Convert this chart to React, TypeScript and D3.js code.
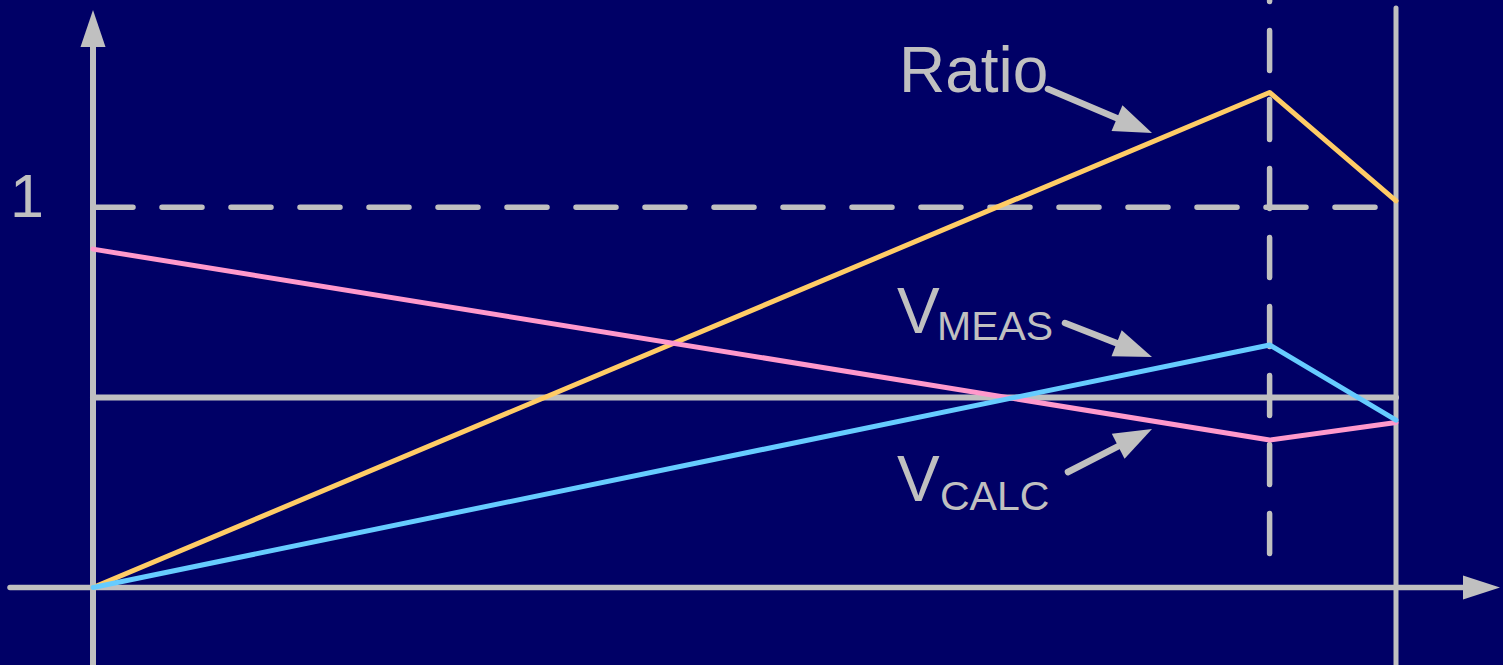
import React from "react";
import * as d3 from "d3";

// ---- data ----
const xKeys = [0, 0.903, 1];
const ratioValues = [0, 1.302, 1.017];
const vmeasValues = [0, 0.638, 0.44];
const vcalcValues = [0.89, 0.388, 0.434];
const referenceLevel = 1;
const midLevel = 0.5;
const breakX = 0.903;
const yTickLabels = ["1"];

const W = 1503;
const H = 665;
const BG = "#000066";
const GREY = "#C0C0C0";
const FONT = "'Liberation Sans', Arial, sans-serif";

function arrowHead(x1: number, y1: number, x2: number, y2: number, len: number, half: number) {
  const dx = x2 - x1, dy = y2 - y1;
  const d = Math.hypot(dx, dy);
  const ux = dx / d, uy = dy / d;
  const bx = x2 - ux * len, by = y2 - uy * len;
  const px = -uy, py = ux;
  return {
    pts: `${x2},${y2} ${bx + px * half},${by + py * half} ${bx - px * half},${by - py * half}`,
    bx: x2 - ux * (len - 2),
    by: y2 - uy * (len - 2),
  };
}

function Arrow({ x1, y1, x2, y2 }: { x1: number; y1: number; x2: number; y2: number }) {
  const h = arrowHead(x1, y1, x2, y2, 38, 14);
  return (
    <g>
      <line x1={x1} y1={y1} x2={h.bx} y2={h.by} stroke={GREY} strokeWidth={6.5} strokeLinecap="round" />
      <polygon points={h.pts} fill={GREY} />
    </g>
  );
}

export default function App() {
  const x = d3.scaleLinear().domain([0, 1]).range([93, 1396]);
  const y = d3.scaleLinear().domain([0, 1]).range([587.5, 207.3]);
  const line = d3
    .line<number>()
    .x((_, i) => x(xKeys[i]))
    .y((d) => y(d));

  const x0 = x(0);
  const x1 = x(1);
  const y0 = y(0);
  const xb = x(breakX);

  return (
    <svg
      width={W}
      height={H}
      style={{ position: "absolute", left: 0, top: 0, display: "block", background: BG }}
    >
      <rect x={0} y={0} width={W} height={H} fill={BG} />

      {/* axes */}
      <line x1={x0} y1={47} x2={x0} y2={H + 5} stroke={GREY} strokeWidth={6} />
      <polygon points={`${x0},10 ${x0 - 12.5},47 ${x0 + 12.5},47`} fill={GREY} />
      <line x1={10} y1={y0} x2={1465} y2={y0} stroke={GREY} strokeWidth={5.5} strokeLinecap="round" />
      <polygon points={`1500,${y0} 1463,${y0 - 12} 1463,${y0 + 12}`} fill={GREY} />

      {/* right boundary */}
      <line x1={x1} y1={8} x2={x1} y2={H + 5} stroke={GREY} strokeWidth={5} strokeLinecap="round" />

      {/* reference level 1 dashed */}
      <line
        x1={x0}
        y1={y(referenceLevel)}
        x2={x1}
        y2={y(referenceLevel)}
        stroke={GREY}
        strokeWidth={5.5}
        strokeDasharray="40 29"
        strokeLinecap="round"
      />
      {/* vertical dashed at break */}
      <line
        x1={xb}
        y1={553.5}
        x2={xb}
        y2={-20}
        stroke={GREY}
        strokeWidth={5.5}
        strokeDasharray="40 29"
        strokeLinecap="round"
      />
      {/* mid level solid */}
      <line
        x1={x0}
        y1={y(midLevel)}
        x2={x1}
        y2={y(midLevel)}
        stroke={GREY}
        strokeWidth={6}
        strokeLinecap="round"
      />

      {/* y tick label */}
      {yTickLabels.map((t) => (
        <text key={t} x={10} y={y(+t) + 10} fill={GREY} fontFamily={FONT} fontSize={61}>
          {t}
        </text>
      ))}

      {/* data */}
      <path d={line(ratioValues) || ""} fill="none" stroke="#FFCC66" strokeWidth={5} strokeLinejoin="round" strokeLinecap="round" />
      <path d={line(vcalcValues) || ""} fill="none" stroke="#FF99CC" strokeWidth={5} strokeLinejoin="round" strokeLinecap="round" />
      <path d={line(vmeasValues) || ""} fill="none" stroke="#66CCFF" strokeWidth={5} strokeLinejoin="round" strokeLinecap="round" />

      {/* annotations */}
      <text x={899} y={92} fill={GREY} fontFamily={FONT} fontSize={64}>
        Ratio
      </text>
      <Arrow x1={1048} y1={89} x2={1152} y2={133} />

      <text x={897} y={333} fill={GREY} fontFamily={FONT} fontSize={64}>
        V
      </text>
      <text x={937} y={340} fill={GREY} fontFamily={FONT} fontSize={41}>
        MEAS
      </text>
      <Arrow x1={1065} y1={323} x2={1152} y2={357} />

      <text x={897} y={501} fill={GREY} fontFamily={FONT} fontSize={64}>
        V
      </text>
      <text x={940} y={510} fill={GREY} fontFamily={FONT} fontSize={41}>
        CALC
      </text>
      <Arrow x1={1068} y1={472} x2={1152} y2={429} />
    </svg>
  );
}
